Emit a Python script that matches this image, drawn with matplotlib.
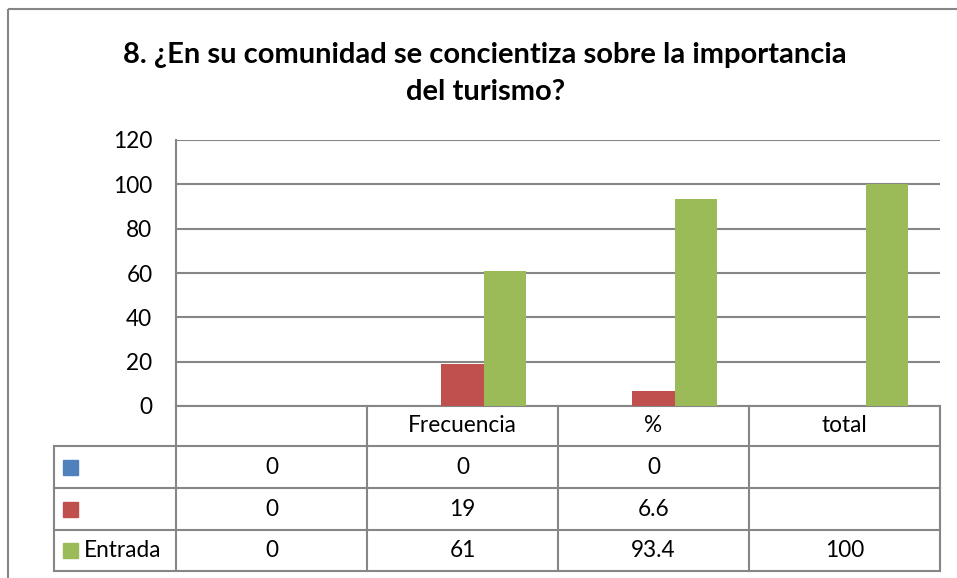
import matplotlib
matplotlib.use("Agg")
import numpy as np
import matplotlib.pyplot as plt
from matplotlib.patches import Rectangle

plt.rcParams['font.family'] = ['Lato', 'DejaVu Sans']

# datos
categories = ["", "Frecuencia", "%", "total"]
series_names = ["", "", "Entrada"]
blue_vals = [0, 0, 0, None]
red_vals = [0, 19, 6.6, None]
green_vals = [0, 61, 93.4, 100]
series_vals = [blue_vals, red_vals, green_vals]
colors = ["#4F81BD", "#C0504D", "#9BBB59"]
yticks = [0, 20, 40, 60, 80, 100, 120]

W, H = 957, 578
GRID = "#868686"
FS = 16.3

fig = plt.figure(figsize=(W / 100, H / 100), dpi=100)

# capa en pixeles para marco, titulo y tabla
px = fig.add_axes([0, 0, 1, 1])
px.set_xlim(0, W)
px.set_ylim(H, 0)
px.axis("off")

px.add_patch(Rectangle((8, 9), W + 20, H + 20, fill=False,
                       edgecolor=GRID, lw=1.5))
px.text(485, 63, "8. ¿En su comunidad se concientiza sobre la importancia",
        ha="center", va="baseline", fontsize=21, fontweight="bold")
px.text(486, 100, "del turismo?", ha="center", va="baseline",
        fontsize=21, fontweight="bold")

# area del grafico
x0, x1, ytop, ybot = 176, 940, 140, 406
ax = fig.add_axes([x0 / W, 1 - ybot / H, (x1 - x0) / W, (ybot - ytop) / H])
ax.set_zorder(2)
ax.patch.set_alpha(0)

n = len(categories)
bw = 1 / 4.5
x = np.arange(n)
for k, (vals, c) in enumerate(zip(series_vals, colors)):
    v = np.array([np.nan if a is None else a for a in vals], dtype=float)
    ax.bar(x + (k - 1) * bw, v, width=bw, color=c, zorder=3)

ax.set_xlim(-0.5, n - 0.5)
ax.set_ylim(0, 120)
ax.set_yticks(yticks)
ax.set_yticklabels([str(t) for t in yticks], fontsize=FS)
ax.tick_params(axis="y", length=0, pad=17)
ax.set_xticks([])
ax.yaxis.grid(True, color=GRID, lw=1.5, zorder=0)
for s in ["top", "right", "bottom"]:
    ax.spines[s].set_visible(False)
ax.spines["left"].set_color(GRID)
ax.spines["left"].set_linewidth(1.5)

# tabla de datos
col_w = (x1 - x0) / n
col_edges = [x0 + i * col_w for i in range(n + 1)]
lab_left = 54
row_edges = [406, 446, 488, 530, 571]
lkw = dict(color=GRID, lw=1.5, zorder=1)

px.plot([x0, x1], [row_edges[0], row_edges[0]], **lkw)
for y in row_edges[1:]:
    px.plot([lab_left, x1], [y, y], **lkw)
for xe in col_edges:
    px.plot([xe, xe], [row_edges[0], row_edges[-1]], **lkw)
px.plot([lab_left, lab_left], [row_edges[1], row_edges[-1]], **lkw)

for i, cat in enumerate(categories):
    xc = (col_edges[i] + col_edges[i + 1]) / 2
    px.text(xc, (row_edges[0] + row_edges[1]) / 2, cat, ha="center",
            va="center", fontsize=FS)

for r, (name, vals, c) in enumerate(zip(series_names, series_vals, colors)):
    yc = (row_edges[r + 1] + row_edges[r + 2]) / 2
    px.add_patch(Rectangle((63, yc - 7.5), 15, 15, color=c))
    px.text(84, yc, name, ha="left", va="center", fontsize=FS)
    for i, v in enumerate(vals):
        if v is None:
            continue
        xc = (col_edges[i] + col_edges[i + 1]) / 2
        px.text(xc, yc, f"{v:g}", ha="center", va="center", fontsize=FS)

fig.savefig("out.png", dpi=100)
